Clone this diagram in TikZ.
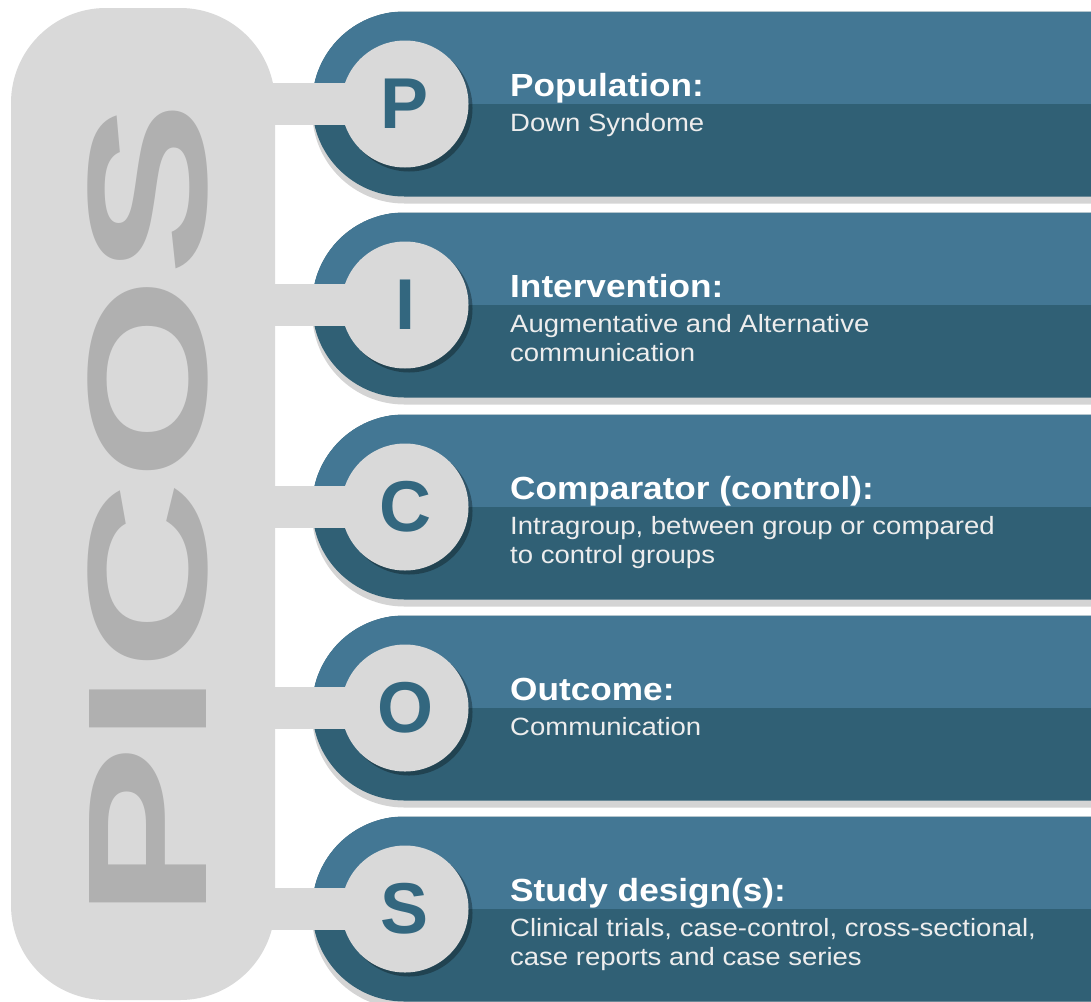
\documentclass[tikz,border=0pt]{standalone}
\usepackage{fontspec}
\usepackage{tikz}
\usetikzlibrary{positioning,shadows}
\setmainfont{Liberation Sans}
\newfontfamily\widefont[FakeStretch=1.1]{Liberation Sans}
\newfontfamily\picosfont[FakeStretch=1.55]{Liberation Sans}
\definecolor{pillgray}{HTML}{D9D9D9}
\definecolor{picosgray}{HTML}{B0B0B0}
\definecolor{bandtop}{HTML}{437794}
\definecolor{bandbot}{HTML}{306075}
\definecolor{tagteal}{HTML}{33677F}

\begin{document}
\begin{tikzpicture}[
  x=1pt, y=-1pt,
  pill/.style={fill=pillgray, rounded corners=95pt, minimum width=264pt, minimum height=992pt, inner sep=0pt},
  band/.style={fill=bandbot, rounded corners=92pt, minimum width=888pt, minimum height=185pt, inner sep=0pt, anchor=west,
    drop shadow={shadow xshift=0pt, shadow yshift=-7pt, fill=black!17, opacity=1},
    path picture={\fill[bandtop, sharp corners] (path picture bounding box.north west) rectangle (path picture bounding box.east);}},
  knob/.style={circle, fill=pillgray, minimum size=127pt, inner sep=0pt, text=tagteal, font={\bfseries\fontsize{72}{72}\selectfont},
    drop shadow={shadow xshift=4pt, shadow yshift=-4pt, fill=black, opacity=0.3}},
  link/.style={draw=pillgray, line width=42pt},
  ttl/.style={anchor=base west, inner sep=0pt, text=white, font={\widefont\bfseries\fontsize{32}{36}\selectfont}},
  dsc/.style={anchor=north west, inner sep=0pt, align=left, text=white!93!black, font={\widefont\fontsize{25}{29}\selectfont}}
]
\clip (0,0) rectangle (1091,1001);
\fill[white] (0,0) rectangle (1091,1001);
\node[pill] (pill) at (143,504) {};
\node[rotate=90, inner sep=0pt, text=picosgray, font={\picosfont\bfseries\fontsize{170}{170}\selectfont}] (picos) at (148,511) {PICOS};

\node[band] (bP) at (312,104) {};
\node[band] (bI) at (312,305) {};
\node[band] (bC) at (312,507) {};
\node[band] (bO) at (312,708) {};
\node[band] (bS) at (312,909) {};

\node[knob] (kP) at (405,104) {P};
\node[knob] (kI) at (405,305) {I};
\node[knob] (kC) at (405,507) {C};
\node[knob] (kO) at (405,708) {O};
\node[knob] (kS) at (405,909) {S};

\draw[link] ([xshift=-12pt]pill.east |- kP) -- ([xshift=8pt]kP.west);
\draw[link] ([xshift=-12pt]pill.east |- kI) -- ([xshift=8pt]kI.west);
\draw[link] ([xshift=-12pt]pill.east |- kC) -- ([xshift=8pt]kC.west);
\draw[link] ([xshift=-12pt]pill.east |- kO) -- ([xshift=8pt]kO.west);
\draw[link] ([xshift=-12pt]pill.east |- kS) -- ([xshift=8pt]kS.west);

\node[ttl] (tP) at (510,96) {Population:};
\node[dsc, below right=17pt and 0pt of tP.base west] (dP) {Down Syndome};
\node[ttl] (tI) at (510,297) {Intervention:};
\node[dsc, below right=17pt and 0pt of tI.base west] (dI) {Augmentative and Alternative\\communication};
\node[ttl] (tC) at (510,499) {Comparator (control):};
\node[dsc, below right=17pt and 0pt of tC.base west] (dC) {Intragroup, between group or compared\\to control groups};
\node[ttl] (tO) at (510,700) {Outcome:};
\node[dsc, below right=17pt and 0pt of tO.base west] (dO) {Communication};
\node[ttl] (tS) at (510,901) {Study design(s):};
\node[dsc, below right=17pt and 0pt of tS.base west] (dS) {Clinical trials, case-control, cross-sectional,\\case reports and case series};
\end{tikzpicture}
\end{document}
